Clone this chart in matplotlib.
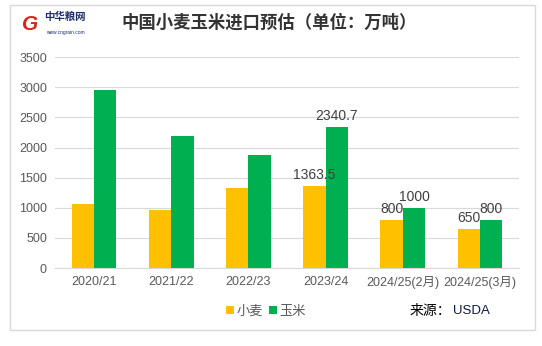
import matplotlib.pyplot as plt
from matplotlib.patches import Rectangle
import numpy as np

plt.rcParams['font.family'] = ['Liberation Sans', 'Noto Sans CJK SC', 'DejaVu Sans']

categories = ["2020/21", "2021/22", "2022/23", "2023/24", "2024/25(2月)", "2024/25(3月)"]
wheat = [1065, 965, 1330, 1363.5, 800, 650]
corn = [2955, 2195, 1880, 2340.7, 1000, 800]
wheat_labels = ["", "", "", "1363.5", "800", "650"]
corn_labels = ["", "", "", "2340.7", "1000", "800"]
yticks = [0, 500, 1000, 1500, 2000, 2500, 3000, 3500]

wheat_color = "#FFC000"
corn_color = "#00B050"

fig = plt.figure(figsize=(5.42, 3.46), dpi=100)
fig.patches.append(Rectangle((0.019, 0.046), 0.968, 0.94, transform=fig.transFigure,
                             fill=False, edgecolor="#d9d9d9", linewidth=1))

ax = fig.add_axes([0.102, 0.225, 0.855, 0.61])
x = np.arange(len(categories))
w = 0.29
ax.bar(x - w / 2, wheat, w, color=wheat_color, label="小麦", zorder=3)
ax.bar(x + w / 2, corn, w, color=corn_color, label="玉米", zorder=3)

for i in range(len(categories)):
    if wheat_labels[i]:
        ax.text(x[i] - w / 2, wheat[i] + 60, wheat_labels[i], ha="center", va="bottom",
                fontsize=10, color="#404040", zorder=4)
    if corn_labels[i]:
        ax.text(x[i] + w / 2, corn[i] + 60, corn_labels[i], ha="center", va="bottom",
                fontsize=10, color="#404040", zorder=4)

ax.set_ylim(0, 3500)
ax.set_xlim(-0.5, len(categories) - 0.5)
ax.set_yticks(yticks)
ax.set_xticks(x)
ax.set_xticklabels(categories)
ax.tick_params(axis="both", length=0, labelsize=9, colors="#595959", pad=6)
ax.grid(axis="y", color="#d9d9d9", linewidth=0.8, zorder=0)
for s in ["top", "right", "left"]:
    ax.spines[s].set_visible(False)
ax.spines["bottom"].set_color("#d9d9d9")

ax.legend(loc="upper center", bbox_to_anchor=(0.455, -0.12), ncol=2, frameon=False,
          fontsize=9.5, handlelength=0.55, handleheight=0.55, handletextpad=0.2,
          columnspacing=0.5, labelcolor="#595959")

fig.text(0.225, 0.935, "中国小麦玉米进口预估（单位：万吨）", fontsize=12.5, fontweight="bold",
         color="#333333", va="center", family=["Noto Sans CJK SC"])
fig.text(0.04, 0.93, "G", fontsize=15, fontweight="bold", color="#d7261b", va="center",
         style="italic")
fig.text(0.082, 0.95, "中华粮网", fontsize=7.5, fontweight="bold", color="#1f2f6b",
         va="center", family=["Noto Sans CJK SC"])
fig.text(0.084, 0.907, "www.cngrain.com", fontsize=3.5, color="#1f2f6b", va="center")
fig.text(0.755, 0.1, "来源：", fontsize=10, color="black", va="center",
         family=["Noto Sans CJK SC"])
fig.text(0.835, 0.1, "USDA", fontsize=9.5, color="#0d1a40", va="center")

fig.savefig("out.png", dpi=100)
